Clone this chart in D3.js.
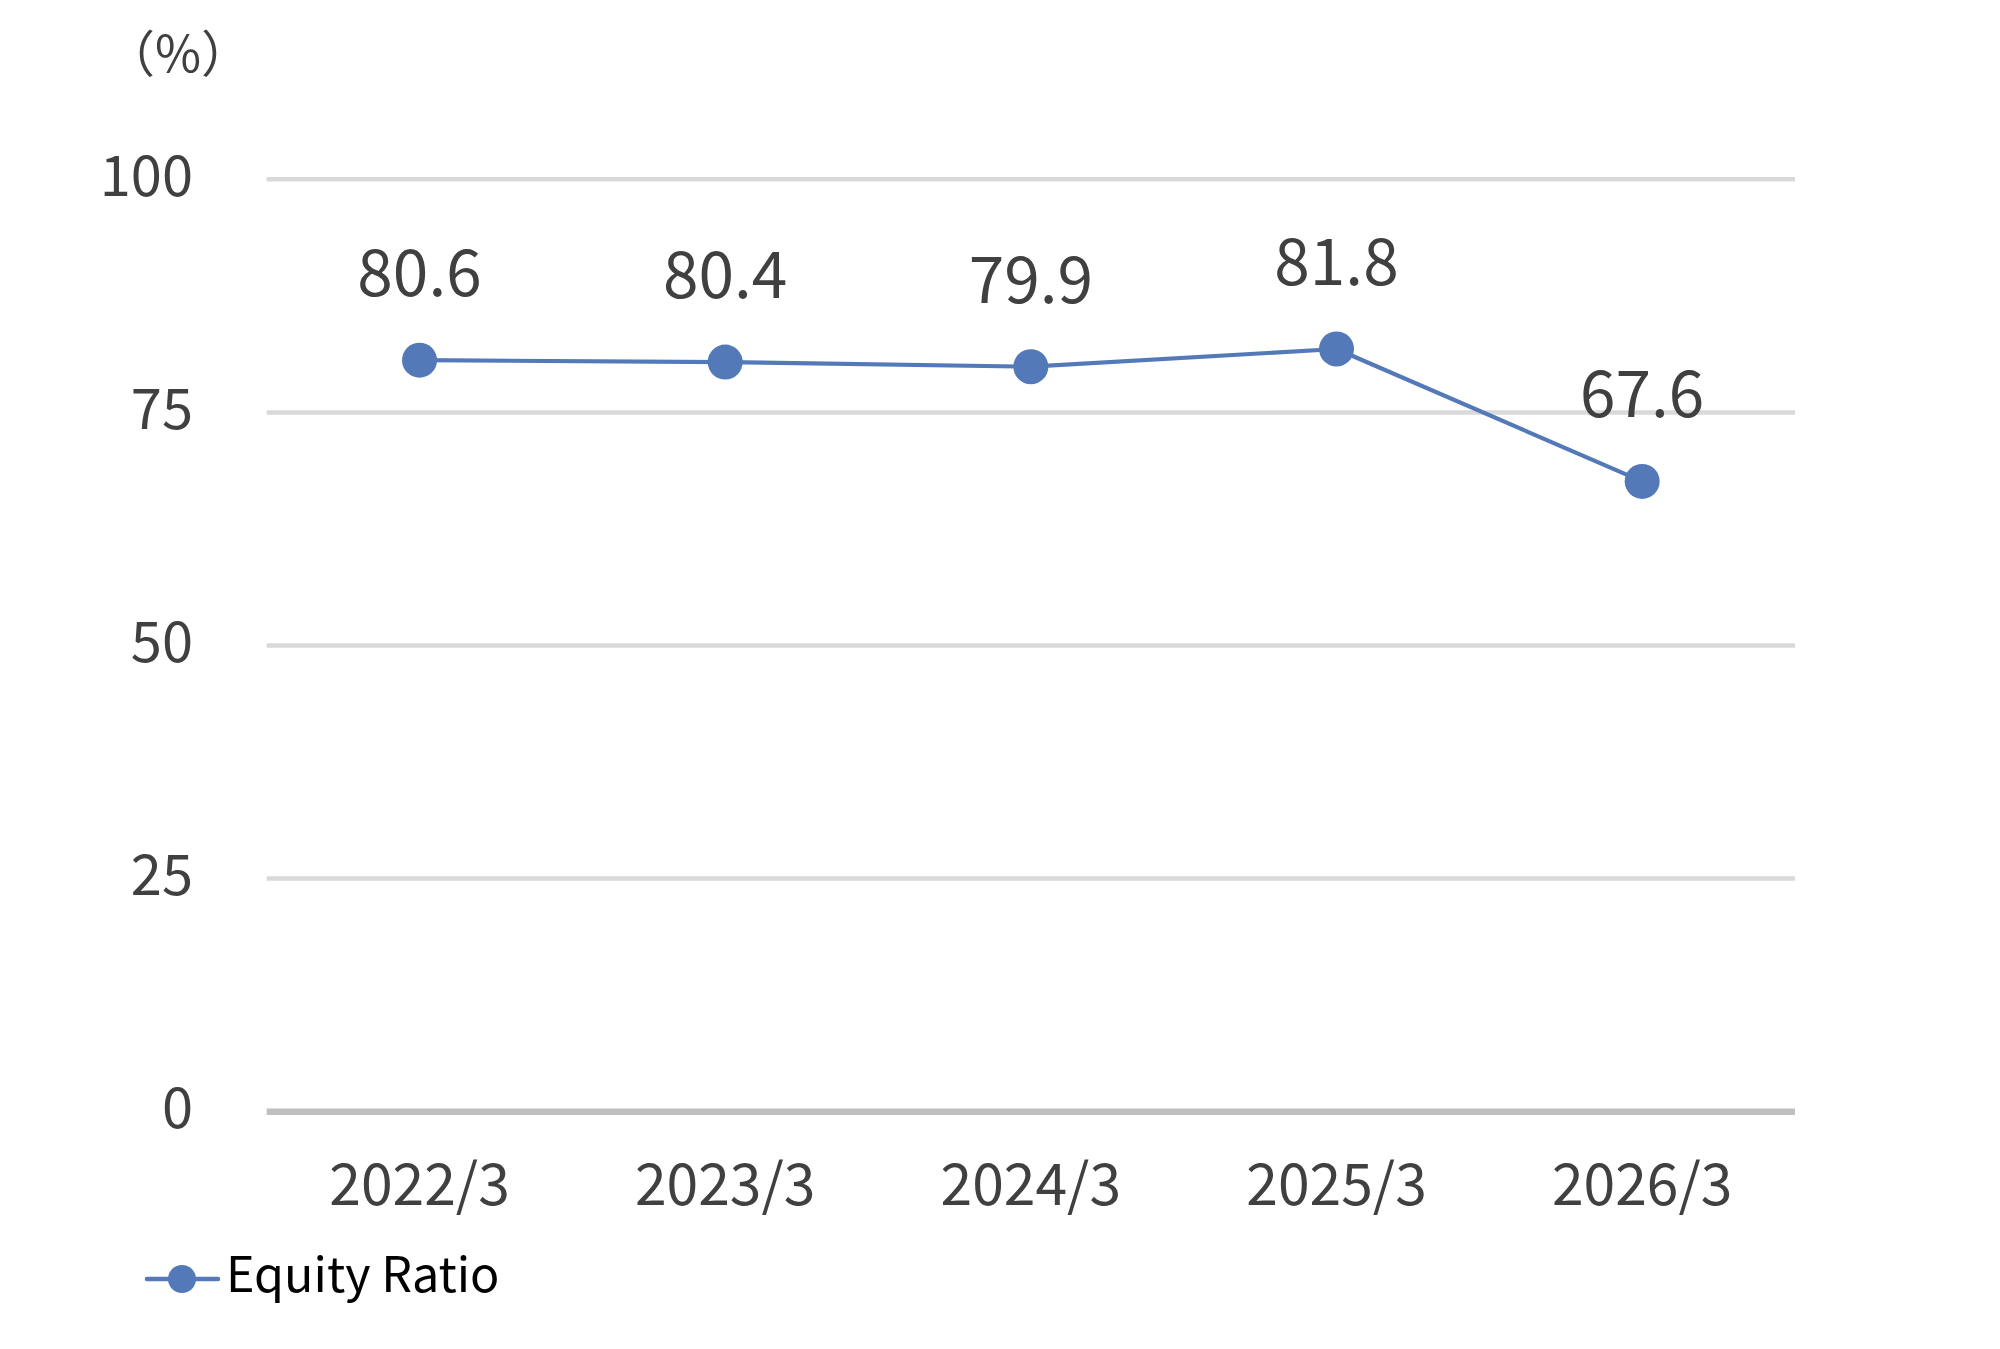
<!DOCTYPE html>
<html>
<head>
<meta charset="utf-8">
<script src="https://cdn.jsdelivr.net/npm/d3@7"></script>
<style>
  html, body { margin: 0; padding: 0; background: #ffffff; }
  svg { display: block; }
  text { font-family: "Noto Sans CJK JP", "Noto Sans", sans-serif; }
</style>
</head>
<body>
<svg id="chart" width="2000" height="1349"></svg>
<script>
// ---- data ----
const categories = ["2022/3", "2023/3", "2024/3", "2025/3", "2026/3"];
const equityRatio = [80.6, 80.4, 79.9, 81.8, 67.6];
const yTicks = [0, 25, 50, 75, 100];
const seriesName = "Equity Ratio";
const unitLabel = "（%）";

(function () {
// ---- layout ----
const W = 2000, H = 1349;
const plotLeft = 266.7, plotRight = 1795, plotTop = 179.3, plotBottom = 1111.7;
const lineColor = "#5479b9";
const textColor = "#404040";

const svg = d3.select("#chart");
svg.append("rect").attr("width", W).attr("height", H).attr("fill", "#fff");

const x = d3.scaleBand().domain(categories).range([plotLeft, plotRight]).padding(0);
const y = d3.scaleLinear().domain([0, 100]).range([plotBottom, plotTop]);

// gridlines
svg.append("g").selectAll("line")
  .data(yTicks.filter(d => d !== 0))
  .join("line")
  .attr("x1", plotLeft).attr("x2", plotRight)
  .attr("y1", d => y(d)).attr("y2", d => y(d))
  .attr("stroke", "#d9d9d9").attr("stroke-width", 4.5);

// baseline axis
svg.append("line")
  .attr("x1", plotLeft).attr("x2", plotRight)
  .attr("y1", y(0)).attr("y2", y(0))
  .attr("stroke", "#bfbfbf").attr("stroke-width", 6.5);

// y axis labels
const yAxis = d3.axisLeft(y).tickValues(yTicks).tickSize(0).tickPadding(0);
const yg = svg.append("g").attr("transform", `translate(${193},0)`).call(yAxis);
yg.select(".domain").remove();
yg.selectAll("text")
  .attr("fill", textColor)
  .attr("font-size", 56)
  .attr("font-family", '"Noto Sans CJK JP", sans-serif')
  .attr("dy", null)
  .attr("y", 16)
  .attr("text-anchor", "end");

// x axis labels
const xAxis = d3.axisBottom(x).tickSize(0).tickPadding(0);
const xg = svg.append("g").attr("transform", `translate(0,${1205})`).call(xAxis);
xg.select(".domain").remove();
xg.selectAll("text")
  .attr("fill", textColor)
  .attr("font-size", 57)
  .attr("font-family", '"Noto Sans CJK JP", sans-serif')
  .attr("dy", null)
  .attr("y", 0);

// unit label
svg.append("text")
  .attr("x", 178).attr("y", 72)
  .attr("text-anchor", "middle")
  .attr("fill", textColor)
  .attr("font-size", 50)
  .text(unitLabel);

// line
const cx = (d, i) => x(categories[i]) + x.bandwidth() / 2;
const line = d3.line().x(cx).y(d => y(d));
svg.append("path")
  .datum(equityRatio)
  .attr("d", line)
  .attr("fill", "none")
  .attr("stroke", lineColor)
  .attr("stroke-width", 4.2)
  .attr("stroke-linejoin", "round");

// points
svg.append("g").selectAll("circle")
  .data(equityRatio)
  .join("circle")
  .attr("cx", cx)
  .attr("cy", d => y(d))
  .attr("r", 17.5)
  .attr("fill", lineColor);

// data labels
svg.append("g").selectAll("text")
  .data(equityRatio)
  .join("text")
  .attr("x", cx)
  .attr("y", d => y(d) - 64)
  .attr("text-anchor", "middle")
  .attr("fill", textColor)
  .attr("font-size", 64)
  .text(d => d.toFixed(1));

// legend
const lg = svg.append("g");
lg.append("line")
  .attr("x1", 147).attr("x2", 218)
  .attr("y1", 1279).attr("y2", 1279)
  .attr("stroke", lineColor).attr("stroke-width", 4.5)
  .attr("stroke-linecap", "round");
lg.append("circle")
  .attr("cx", 182).attr("cy", 1279).attr("r", 14)
  .attr("fill", lineColor);
lg.append("text")
  .attr("x", 226).attr("y", 1292)
  .attr("fill", "#000")
  .attr("font-size", 48.5)
  .text(seriesName);
})();
</script>
</body>
</html>
